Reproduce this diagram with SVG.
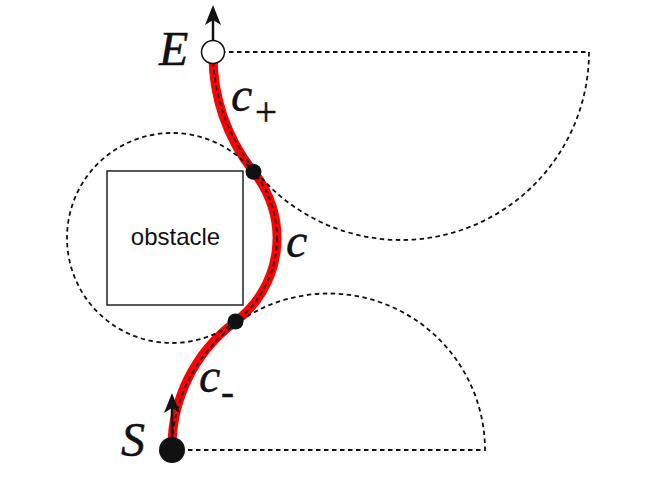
<svg xmlns="http://www.w3.org/2000/svg" width="654" height="483" viewBox="0 0 654 483">
<style>
.dash{fill:none;stroke:#111;stroke-width:1.8;stroke-dasharray:4.5 3.5}
.red{fill:none;stroke:#f00;stroke-width:9;stroke-linecap:round}
.arr{stroke:#111;stroke-width:2.5;fill:none}
.lbl{font-family:"Liberation Serif","Times New Roman",serif;font-style:italic;font-size:48px;fill:#111;stroke:#111;stroke-width:0.45}
.sub{font-family:"Liberation Serif","Times New Roman",serif;font-style:normal;font-size:39px;fill:#111;stroke:#111;stroke-width:0.5}
.obs{font-family:"Liberation Sans",Arial,sans-serif;font-size:24px;fill:#111}
.dot{fill:#111}
</style>
<defs>
<marker id="ah" markerUnits="userSpaceOnUse" viewBox="0 0 20 16" markerWidth="20" markerHeight="16" refX="6" refY="8" orient="auto">
<path d="M0,0 L20,8 L0,16 L5,8 Z" fill="#111"/>
</marker>
</defs>
<g id="obstacle">
<rect x="107" y="171" width="136" height="134" fill="#fff" stroke="#222" stroke-width="1.5"/>
<text class="obs" x="175.5" y="245" text-anchor="middle">obstacle</text>
</g>
<g id="connectors">
<path id="curve" class="red" d="M213,52 A188,188 0 0 0 253.5,171.8 A105,105 0 0 1 234.4,322.5 A156.5,156.5 0 0 0 172,450"/>
<circle class="dash" cx="172" cy="238" r="105"/>
<path class="dash" d="M213,52 H589 A188,188 0 0 1 213,52"/>
<path class="dash" d="M172,450 H485 A156.5,156.5 0 0 0 172,450"/>
<line class="arr" x1="213" y1="40" x2="213" y2="19" marker-end="url(#ah)"/>
<line class="arr" x1="172" y1="450" x2="172" y2="407" marker-end="url(#ah)"/>
</g>
<g id="t1"><circle class="dot" cx="253.5" cy="171.8" r="8"/></g>
<g id="t2"><circle class="dot" cx="235.5" cy="321.5" r="8"/></g>
<g id="E">
<circle cx="213" cy="52" r="11.5" fill="#fff" stroke="#111" stroke-width="1.5"/>
<text class="lbl" x="159" y="65">E</text>
</g>
<g id="S">
<circle class="dot" cx="172" cy="450" r="13"/>
<text class="lbl" x="121" y="456">S</text>
</g>
<g id="labels">
<text class="lbl" x="231" y="111">c<tspan class="sub" x="255" y="125">+</tspan></text>
<text class="lbl" x="286" y="257">c</text>
<text class="lbl" x="199" y="392">c<tspan class="sub" x="221" y="405">-</tspan></text>
</g>
</svg>
